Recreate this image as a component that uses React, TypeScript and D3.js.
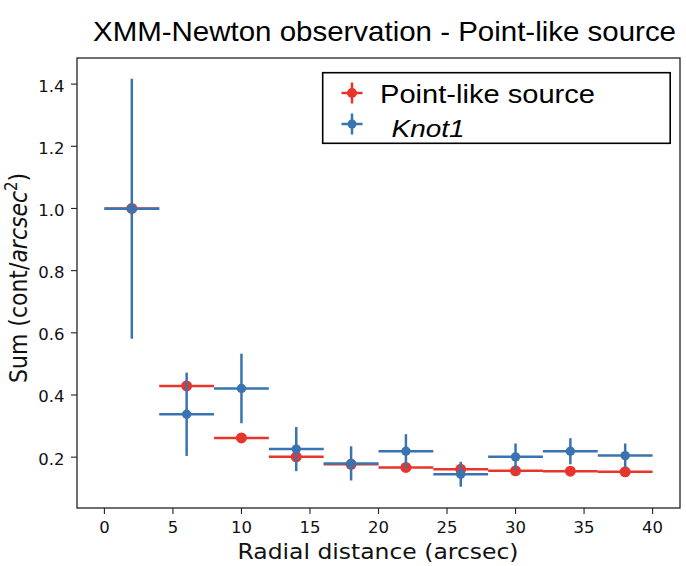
import React from "react";
import * as d3 from "d3";

const radii = [2, 6, 10, 14, 18, 22, 26, 30, 34, 38];
const xHalfWidth = [2, 2, 2, 2, 2, 2, 2, 2, 2, 2];
const pointValues = [1.0, 0.429, 0.262, 0.201, 0.177, 0.167, 0.161, 0.156, 0.155, 0.153];
const pointErrors = [0.0, 0.0, 0.0, 0.0, 0.0, 0.0, 0.0, 0.0, 0.0, 0.0];
const knotValues = [0.999, 0.338, 0.421, 0.226, 0.18, 0.219, 0.145, 0.201, 0.219, 0.205];
const knotErrors = [0.418, 0.134, 0.112, 0.071, 0.055, 0.055, 0.04, 0.043, 0.042, 0.039];
const xTicks = [0, 5, 10, 15, 20, 25, 30, 35, 40];
const yTicks = [0.2, 0.4, 0.6, 0.8, 1.0, 1.2, 1.4];

const W = 686;
const H = 566;
const left = 77, right = 680, top = 58, bottom = 508;
const RED = "#e8352b";
const BLUE = "#3a74b0";
const SANS = "'Liberation Sans', Arial, Helvetica, sans-serif";
const DEJAVU = "'DejaVu Sans', sans-serif";

export default function App() {
  const x = d3.scaleLinear().domain([-2, 42]).range([left, right]);
  const y = d3.scaleLinear().domain([0.0365, 1.484]).range([bottom, top]);

  const series = [
    { name: "point", vals: pointValues, errs: pointErrors, color: RED, r: 5.5 },
    { name: "knot", vals: knotValues, errs: knotErrors, color: BLUE, r: 4.7 },
  ];

  return (
    <svg width={W} height={H} style={{ position: "absolute", left: 0, top: 0, background: "#fff" }}>
      <rect x={0} y={0} width={W} height={H} fill="#fff" />
      {/* title */}
      <text x={93} y={40.5} fontFamily={SANS} fontSize={28} fill="#000"
        textLength={583} lengthAdjust="spacingAndGlyphs">
        XMM-Newton observation - Point-like source
      </text>

      {/* data */}
      {series.map((s) => (
        <g key={s.name}>
          {radii.map((r, i) => (
            <g key={i}>
              <line x1={x(r - xHalfWidth[i])} x2={x(r + xHalfWidth[i])} y1={y(s.vals[i])} y2={y(s.vals[i])}
                stroke={s.color} strokeWidth={2.5} />
              {s.errs[i] > 0 && (
                <line x1={x(r)} x2={x(r)} y1={y(s.vals[i] - s.errs[i])} y2={y(s.vals[i] + s.errs[i])}
                  stroke={s.color} strokeWidth={2.5} />
              )}
              <circle cx={x(r)} cy={y(s.vals[i])} r={s.r} fill={s.color} />
            </g>
          ))}
        </g>
      ))}

      {/* axes frame */}
      <rect x={left} y={top} width={right - left} height={bottom - top} fill="none" stroke="#222" strokeWidth={1.3} />

      {/* x ticks */}
      {xTicks.map((t) => (
        <g key={t}>
          <line x1={x(t)} x2={x(t)} y1={bottom} y2={bottom + 6} stroke="#222" strokeWidth={1.1} />
          <text x={x(t)} y={532.5} textAnchor="middle" fontFamily={DEJAVU} fontSize={16.5} fill="#111">
            {t}
          </text>
        </g>
      ))}
      {/* y ticks */}
      {yTicks.map((t) => (
        <g key={t}>
          <line x1={left - 6} x2={left} y1={y(t)} y2={y(t)} stroke="#222" strokeWidth={1.1} />
          <text x={64.5} y={y(t) + 7.5} textAnchor="end" fontFamily={DEJAVU} fontSize={16.5} fill="#111">
            {t.toFixed(1)}
          </text>
        </g>
      ))}

      {/* axis labels */}
      <text x={237.5} y={558.5} fontFamily={DEJAVU} fontSize={21} fill="#111"
        textLength={281} lengthAdjust="spacingAndGlyphs">
        Radial distance (arcsec)
      </text>
      <text transform={`translate(27,383) rotate(-90) scale(1,1.12)`}
        fontFamily={DEJAVU} fontSize={22} fill="#111">
        Sum (cont/<tspan fontStyle="italic">arcsec</tspan>
        <tspan fontSize={15} dy={-9}>2</tspan>
        <tspan dy={9}>)</tspan>
      </text>

      {/* legend */}
      <rect x={322.7} y={72.7} width={347.5} height={70.6} fill="#fff" stroke="#000" strokeWidth={1.6} />
      <g>
        <line x1={341.5} x2={362.5} y1={93} y2={93} stroke={RED} strokeWidth={2.5} />
        <line x1={352} x2={352} y1={82.5} y2={103.5} stroke={RED} strokeWidth={2.5} />
        <circle cx={352} cy={93} r={5} fill={RED} />
        <text x={380} y={102.5} fontFamily={SANS} fontSize={26} fill="#000"
          textLength={215} lengthAdjust="spacingAndGlyphs">Point-like source</text>
      </g>
      <g>
        <line x1={341.5} x2={362.5} y1={124} y2={124} stroke={BLUE} strokeWidth={2.5} />
        <line x1={352} x2={352} y1={113.5} y2={134.5} stroke={BLUE} strokeWidth={2.5} />
        <circle cx={352} cy={124} r={4.5} fill={BLUE} />
        <text x={391.5} y={136.5} fontFamily={SANS} fontSize={24.5} fontStyle="italic" fill="#000"
          textLength={73} lengthAdjust="spacingAndGlyphs">Knot1</text>
      </g>
    </svg>
  );
}
